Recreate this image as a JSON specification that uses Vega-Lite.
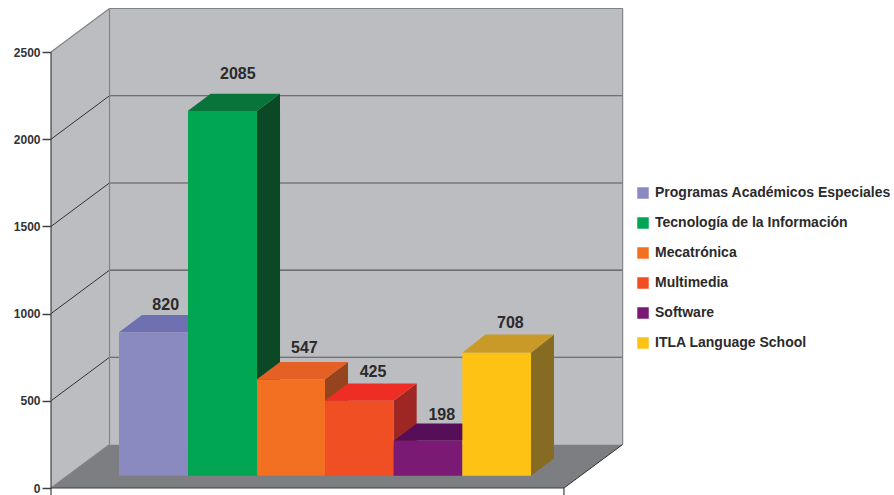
{
"$schema":"https://vega.github.io/schema/vega-lite/v6.json",
"width":894,"height":495,"padding":0,"autosize":{"type":"none"},"background":"white",
"config":{"view":{"stroke":null}},
"datasets":{
"planos":[
{"cara":"pared izquierda","x":-0.99,"y":0,"y2":2500},
{"cara":"pared izquierda","x":-0.138,"y":249.4,"y2":2749.4},
{"cara":"pared fondo","x":-0.138,"y":249.4,"y2":2749.4},
{"cara":"pared fondo","x":7.335,"y":249.4,"y2":2749.4},
{"cara":"suelo","x":-0.99,"y":0,"y2":0},
{"cara":"suelo","x":-0.138,"y":0,"y2":249.4},
{"cara":"suelo","x":6.48,"y":0,"y2":249.4},
{"cara":"suelo","x":7.335,"y":249.4,"y2":249.4}
],
"trazos":[
{"tipo":"diagonal","x":-0.99,"x2":-0.138,"y":500,"y2":749.4},
{"tipo":"diagonal","x":-0.99,"x2":-0.138,"y":1000,"y2":1249.4},
{"tipo":"diagonal","x":-0.99,"x2":-0.138,"y":1500,"y2":1749.4},
{"tipo":"diagonal","x":-0.99,"x2":-0.138,"y":2000,"y2":2249.4},
{"tipo":"marco","x":-0.99,"x2":-0.138,"y":2500,"y2":2749.4},
{"tipo":"marco","x":-0.99,"x2":-0.138,"y":0,"y2":249.4},
{"tipo":"fondo","x":-0.138,"x2":7.335,"y":749.4,"y2":749.4},
{"tipo":"fondo","x":-0.138,"x2":7.335,"y":1249.4,"y2":1249.4},
{"tipo":"fondo","x":-0.138,"x2":7.335,"y":1749.4,"y2":1749.4},
{"tipo":"fondo","x":-0.138,"x2":7.335,"y":2249.4,"y2":2249.4},
{"tipo":"marco","x":-0.138,"x2":7.335,"y":2749.4,"y2":2749.4},
{"tipo":"marco","x":-0.138,"x2":-0.138,"y":249.4,"y2":2749.4},
{"tipo":"marco","x":7.335,"x2":7.335,"y":249.4,"y2":2749.4},
{"tipo":"eje","x":-0.99,"x2":-0.99,"y":-40,"y2":2500},
{"tipo":"eje","x":6.48,"x2":6.48,"y":-40,"y2":0},
{"tipo":"eje","x":-0.99,"x2":6.48,"y":0,"y2":0},
{"tipo":"diagonal","x":6.48,"x2":7.335,"y":0,"y2":249.4}
],
"caras":[
{"cara":"Programas techo","x":0,"y":892.8,"y2":892.8},
{"cara":"Programas techo","x":0.335,"y":892.8,"y2":991.8},
{"cara":"Programas techo","x":1,"y":892.8,"y2":991.8},
{"cara":"Programas techo","x":1.335,"y":991.8,"y2":991.8},
{"cara":"Tecnologia lado","x":2.01,"y":70.5,"y2":2161.7},
{"cara":"Tecnologia lado","x":2.345,"y":169.5,"y2":2260.7},
{"cara":"Tecnologia techo","x":1,"y":2161.7,"y2":2161.7},
{"cara":"Tecnologia techo","x":1.335,"y":2161.7,"y2":2260.7},
{"cara":"Tecnologia techo","x":2.01,"y":2161.7,"y2":2260.7},
{"cara":"Tecnologia techo","x":2.345,"y":2260.7,"y2":2260.7},
{"cara":"Mecatronica lado","x":3,"y":70.5,"y2":623.3},
{"cara":"Mecatronica lado","x":3.335,"y":169.5,"y2":722.3},
{"cara":"Mecatronica techo","x":2.01,"y":623.3,"y2":623.3},
{"cara":"Mecatronica techo","x":2.345,"y":623.3,"y2":722.3},
{"cara":"Mecatronica techo","x":3,"y":623.3,"y2":722.3},
{"cara":"Mecatronica techo","x":3.335,"y":722.3,"y2":722.3},
{"cara":"Multimedia lado","x":4,"y":70.5,"y2":500.6},
{"cara":"Multimedia lado","x":4.335,"y":169.5,"y2":599.6},
{"cara":"Multimedia techo","x":3,"y":500.6,"y2":500.6},
{"cara":"Multimedia techo","x":3.335,"y":500.6,"y2":599.6},
{"cara":"Multimedia techo","x":4,"y":500.6,"y2":599.6},
{"cara":"Multimedia techo","x":4.335,"y":599.6,"y2":599.6},
{"cara":"Software techo","x":4,"y":271.2,"y2":271.2},
{"cara":"Software techo","x":4.335,"y":271.2,"y2":370.2},
{"cara":"Software techo","x":5,"y":271.2,"y2":370.2},
{"cara":"Software techo","x":5.335,"y":370.2,"y2":370.2},
{"cara":"ITLA lado","x":6,"y":70.5,"y2":775.8},
{"cara":"ITLA lado","x":6.335,"y":169.5,"y2":880.8},
{"cara":"ITLA techo","x":5,"y":775.8,"y2":775.8},
{"cara":"ITLA techo","x":5.335,"y":775.8,"y2":880.8},
{"cara":"ITLA techo","x":6,"y":775.8,"y2":880.8},
{"cara":"ITLA techo","x":6.335,"y":880.8,"y2":880.8}
],
"barras":[
{"programa":"Programas Académicos Especiales","valor":820,"x0":0,"x1":1.005,"base":70.5,"tope":892.8,"xt":0.68,"yt":1021},
{"programa":"Tecnología de la Información","valor":2085,"x0":1.005,"x1":2.01,"base":70.5,"tope":2161.7,"xt":1.73,"yt":2345},
{"programa":"Mecatrónica","valor":547,"x0":2.01,"x1":3,"base":70.5,"tope":623.3,"xt":2.7,"yt":773},
{"programa":"Multimedia","valor":425,"x0":3,"x1":4,"base":70.5,"tope":500.6,"xt":3.7,"yt":636},
{"programa":"Software","valor":198,"x0":4,"x1":5,"base":70.5,"tope":271.2,"xt":4.7,"yt":390},
{"programa":"ITLA Language School","valor":708,"x0":5,"x1":6,"base":70.5,"tope":775.8,"xt":5.7,"yt":917}
]},
"layer":[
{"data":{"name":"planos"},"mark":{"type":"area"},
"encoding":{
"x":{"field":"x","type":"quantitative","scale":{"domain":[-1.7329,11.2864]},"axis":null},
"y":{"field":"y","type":"quantitative","scale":{"domain":[-40.1,2798.2]},"axis":{"values":[0,500,1000,1500,2000,2500],"format":"d","orient":"left","offset":-51,"domain":false,"grid":false,"title":null,"tickSize":9,"tickWidth":1.5,"tickColor":"#414042","labelFont":"Liberation Sans","labelFontWeight":"bold","labelFontSize":12,"labelColor":"#333336","labelPadding":2}},
"y2":{"field":"y2"},
"detail":{"field":"cara"},
"fill":{"field":"cara","type":"nominal","legend":null,"scale":{"domain":["pared izquierda","pared fondo","suelo"],"range":["#bcbdc0","#bcbdc0","#7d7e81"]}}
}},
{"data":{"name":"trazos"},"mark":{"type":"rule"},
"encoding":{
"x":{"field":"x","type":"quantitative","scale":{"domain":[-1.7329,11.2864]},"axis":null},
"x2":{"field":"x2"},
"y":{"field":"y","type":"quantitative","scale":{"domain":[-40.1,2798.2]}},
"y2":{"field":"y2"},
"stroke":{"field":"tipo","type":"nominal","legend":null,"scale":{"domain":["diagonal","fondo","marco","eje"],"range":["#333336","#58595b","#808285","#414042"]}},
"strokeWidth":{"field":"tipo","type":"nominal","legend":null,"scale":{"domain":["diagonal","fondo","marco","eje"],"range":[1,1.2,1.5,1.5]}}
}},
{"data":{"name":"caras"},"mark":{"type":"area"},
"encoding":{
"x":{"field":"x","type":"quantitative","scale":{"domain":[-1.7329,11.2864]},"axis":null},
"y":{"field":"y","type":"quantitative","scale":{"domain":[-40.1,2798.2]}},
"y2":{"field":"y2"},
"detail":{"field":"cara"},
"fill":{"field":"cara","type":"nominal","legend":null,"scale":{"domain":["Programas techo","Tecnologia lado","Tecnologia techo","Mecatronica lado","Mecatronica techo","Multimedia lado","Multimedia techo","Software techo","ITLA lado","ITLA techo"],"range":["#6f70b2","#0b4825","#08743a","#964420","#e46024","#9e2723","#ee2e24","#570e58","#866c22","#c99a27"]}}
}},
{"data":{"name":"barras"},"mark":{"type":"rect"},
"encoding":{
"x":{"field":"x0","type":"quantitative","scale":{"domain":[-1.7329,11.2864]},"axis":null},
"x2":{"field":"x1"},
"y":{"field":"base","type":"quantitative","scale":{"domain":[-40.1,2798.2]}},
"y2":{"field":"tope"},
"color":{"field":"programa","type":"nominal","sort":null,"scale":{"domain":["Programas Académicos Especiales","Tecnología de la Información","Mecatrónica","Multimedia","Software","ITLA Language School"],"range":["#8a89c0","#00a651","#f36f21","#f04e23","#7a1a74","#fec214"]},
"legend":{"title":null,"orient":"none","legendX":636,"legendY":186,"symbolType":"square","symbolSize":132,"symbolStrokeWidth":0,"labelFont":"Liberation Sans","labelFontWeight":"bold","labelFontSize":14,"labelColor":"#2b2a2c","labelLimit":300,"rowPadding":16,"labelOffset":5}}
}},
{"data":{"name":"barras"},"mark":{"type":"text","font":"Liberation Sans","fontWeight":"bold","fontSize":16,"color":"#2b2a2c","baseline":"alphabetic","align":"center"},
"encoding":{
"x":{"field":"xt","type":"quantitative","scale":{"domain":[-1.7329,11.2864]},"axis":null},
"y":{"field":"yt","type":"quantitative","scale":{"domain":[-40.1,2798.2]}},
"text":{"field":"valor","type":"quantitative"}
}}
],
"resolve":{"scale":{"fill":"independent"}}
}
